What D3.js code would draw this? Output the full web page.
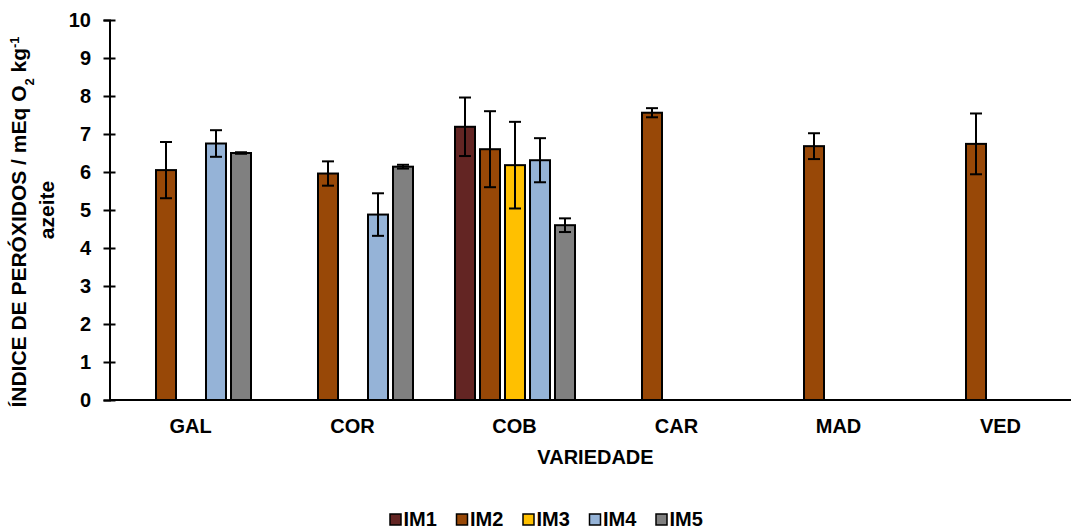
<!DOCTYPE html>
<html>
<head>
<meta charset="utf-8">
<style>
body { margin: 0; background: white; }
svg text { font-family: "Liberation Sans", Arial, sans-serif; font-weight: bold; fill: black; }
</style>
<script src="https://cdn.jsdelivr.net/npm/d3@7"></script>
</head>
<body>
<div id="chart"></div>
<script>
var categories = ["GAL", "COR", "COB", "CAR", "MAD", "VED"];
var seriesNames = ["IM1", "IM2", "IM3", "IM4", "IM5"];
var seriesColors = ["#632523", "#984807", "#FFC000", "#95B3D7", "#808080"];
// values per series, in category order (0 = no sample)
var im1 = [0, 0, 7.19, 0, 0, 0];
var im2 = [6.05, 5.96, 6.60, 7.56, 6.68, 6.74];
var im3 = [0, 0, 6.18, 0, 0, 0];
var im4 = [6.75, 4.88, 6.31, 0, 0, 0];
var im5 = [6.50, 6.14, 4.60, 0, 0, 0];
// standard deviations
var im1Err = [0, 0, 0.77, 0, 0, 0];
var im2Err = [0.74, 0.32, 1.00, 0.12, 0.34, 0.80];
var im3Err = [0, 0, 1.14, 0, 0, 0];
var im4Err = [0.35, 0.56, 0.58, 0, 0, 0];
var im5Err = [0.02, 0.05, 0.18, 0, 0, 0];
var yTicks = [0, 1, 2, 3, 4, 5, 6, 7, 8, 9, 10];

var values = [im1, im2, im3, im4, im5];
var errors = [im1Err, im2Err, im3Err, im4Err, im5Err];

var W = 1071, H = 530;
var svg = d3.select("#chart").append("svg")
    .attr("width", W).attr("height", H)
    .style("background", "white");

var x0 = d3.scaleBand().domain(categories).range([109.5, 1081.5]);
var x1 = d3.scaleBand().domain(seriesNames).range([21.5, 141.5]).paddingInner(0.2);
var y = d3.scaleLinear().domain([0, 10]).range([400, 20]);
var color = d3.scaleOrdinal().domain(seriesNames).range(seriesColors);

var data = [];
categories.forEach(function(c, ci) {
    seriesNames.forEach(function(s, si) {
        data.push({cat: c, s: s, v: values[si][ci], e: errors[si][ci]});
    });
});

// bars
svg.append("g").selectAll("rect")
    .data(data)
    .enter().append("rect")
    .attr("x", function(d) { return x0(d.cat) + x1(d.s); })
    .attr("y", function(d) { return y(d.v); })
    .attr("width", x1.bandwidth())
    .attr("height", function(d) { return y(0) - y(d.v); })
    .attr("fill", function(d) { return color(d.s); })
    .attr("stroke", "black")
    .attr("stroke-width", 2);

// error bars
var eb = svg.append("g").selectAll("g")
    .data(data.filter(function(d) { return d.e > 0; }))
    .enter().append("g")
    .attr("stroke", "black").attr("stroke-width", 2);
var cx = function(d) { return x0(d.cat) + x1(d.s) + x1.bandwidth() / 2; };
eb.append("line")
    .attr("x1", cx).attr("x2", cx)
    .attr("y1", function(d) { return y(d.v - d.e); })
    .attr("y2", function(d) { return y(d.v + d.e); });
eb.append("line")
    .attr("x1", function(d) { return cx(d) - 6; }).attr("x2", function(d) { return cx(d) + 6; })
    .attr("y1", function(d) { return y(d.v + d.e); })
    .attr("y2", function(d) { return y(d.v + d.e); });
eb.append("line")
    .attr("x1", function(d) { return cx(d) - 6; }).attr("x2", function(d) { return cx(d) + 6; })
    .attr("y1", function(d) { return y(d.v - d.e); })
    .attr("y2", function(d) { return y(d.v - d.e); });

// y axis
var yAxis = svg.append("g")
    .attr("transform", "translate(109.5,0)")
    .call(d3.axisLeft(y).tickValues(yTicks).tickSize(6).tickPadding(12.5));
yAxis.select(".domain").attr("stroke-width", 2);
yAxis.selectAll(".tick line").attr("x1", 6).attr("x2", -6).attr("stroke-width", 2);
yAxis.selectAll("text")
    .style("font-size", "20px")
    .style("font-family", "Liberation Sans, Arial, sans-serif")
    .style("font-weight", "bold");

// x axis line
svg.append("line")
    .attr("x1", 109.5).attr("x2", 1081.5)
    .attr("y1", y(0)).attr("y2", y(0))
    .attr("stroke", "black").attr("stroke-width", 2);

svg.append("g").selectAll("text")
    .data(categories)
    .enter().append("text")
    .attr("x", function(c) { return x0(c) + x0.bandwidth() / 2; })
    .attr("y", 433)
    .attr("text-anchor", "middle")
    .style("font-size", "20px")
    .text(function(c) { return c; });

svg.append("text")
    .attr("x", 595.5).attr("y", 464)
    .attr("text-anchor", "middle")
    .style("font-size", "20px")
    .text("VARIEDADE");

// y title
var yt = svg.append("text")
    .attr("transform", "translate(25.5,222) rotate(-90)")
    .attr("text-anchor", "middle")
    .style("font-size", "21px");
yt.append("tspan").text("ÍNDICE DE PERÓXIDOS / mEq O");
yt.append("tspan").attr("baseline-shift", "sub").style("font-size", "13px").text("2");
yt.append("tspan").text(" kg");
yt.append("tspan").attr("baseline-shift", "super").style("font-size", "13px").text("-1");
svg.append("text")
    .attr("transform", "translate(54,210) rotate(-90)")
    .attr("text-anchor", "middle")
    .style("font-size", "21px")
    .text("azeite");

// legend
var leg = svg.append("g").selectAll("g")
    .data(seriesNames)
    .enter().append("g")
    .attr("transform", function(d, i) { return "translate(" + (390 + i * 66.5) + ",526)"; });
leg.append("rect")
    .attr("x", 0).attr("y", -12).attr("width", 11).attr("height", 11)
    .attr("fill", function(d) { return color(d); })
    .attr("stroke", "black").attr("stroke-width", 1.5);
leg.append("text")
    .attr("x", 13.5).attr("y", 0)
    .style("font-size", "20px")
    .text(function(d) { return d; });
</script>
</body>
</html>
